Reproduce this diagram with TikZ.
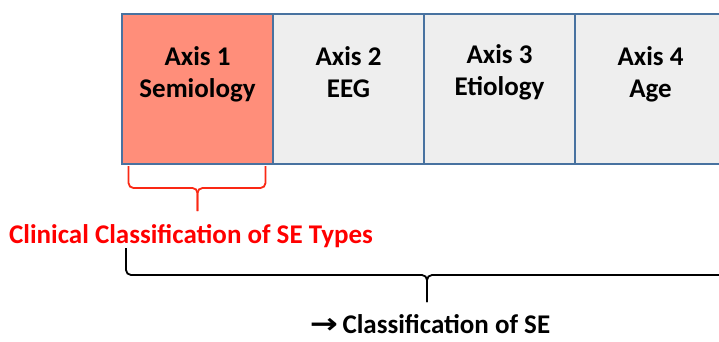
\documentclass[tikz,border=0pt]{standalone}
\usepackage{fontspec}
\setmainfont{Carlito}
\newfontfamily\arrowfont{DejaVu Sans}
\usetikzlibrary{positioning, calc}
\definecolor{axborder}{RGB}{72,114,160}
\definecolor{axgray}{RGB}{238,238,238}
\definecolor{axsalmon}{RGB}{255,142,122}
\definecolor{bracered}{RGB}{250,40,20}

\begin{document}
\begin{tikzpicture}[x=1pt, y=1pt,
  axbox/.style={draw=axborder, line width=2.5pt, fill=axgray, rectangle,
    minimum width=151pt, minimum height=150pt, inner sep=0pt, outer sep=0pt},
  axlabel/.style={font=\fontsize{27}{32}\selectfont\bfseries, align=center, inner sep=0pt},
  bigtext/.style={font=\fontsize{27}{32}\selectfont\bfseries, inner sep=0pt, anchor=base},
  bracket/.style={line width=1.8pt, rounded corners=5pt}]
\clip (0,0) rectangle (719,-341);
% Axes
\node[axbox, fill=axsalmon, anchor=north west] (ax1) at (122,-14) {};
\node[axbox, right=0pt of ax1] (ax2) {};
\node[axbox, right=0pt of ax2] (ax3) {};
\node[axbox, right=0pt of ax3] (ax4) {};

% Axis labels
\node[axlabel, below=32pt of ax1.north] (l1) {Axis 1\\Semiology};
\node[axlabel, below=32pt of ax2.north] (l2) {Axis 2\\EEG};
\node[axlabel, below=30pt of ax3.north] (l3) {Axis 3\\Etiology};
\node[axlabel, below=32pt of ax4.north] (l4) {Axis 4\\Age};

% Braces
\coordinate (rtip) at ($(ax1.south)+(0,-47)$);
\draw[bracket, bracered] ($(ax1.south)+(-69,-2)$) |- ($(ax1.south)+(0,-24)$) -- (rtip);
\draw[bracket, bracered] ($(ax1.south)+(68,-2)$) |- ($(ax1.south)+(0,-24)$) -- (rtip);
\coordinate (btip) at (427,-302);
\draw[bracket] (126,-248) |- (427,-275) -- (btip);
\draw[bracket] (728,-248) |- (427,-275) -- (btip);

% Captions
\node[bigtext, text=red] (clin) at (191,-243) {Clinical Classification of SE Types};
\node[bigtext] (full) at (430,-333) {\scalebox{1.2}[1]{\arrowfont\bfseries\fontsize{28}{28}\selectfont →}\,Classification of SE};
\end{tikzpicture}
\end{document}
